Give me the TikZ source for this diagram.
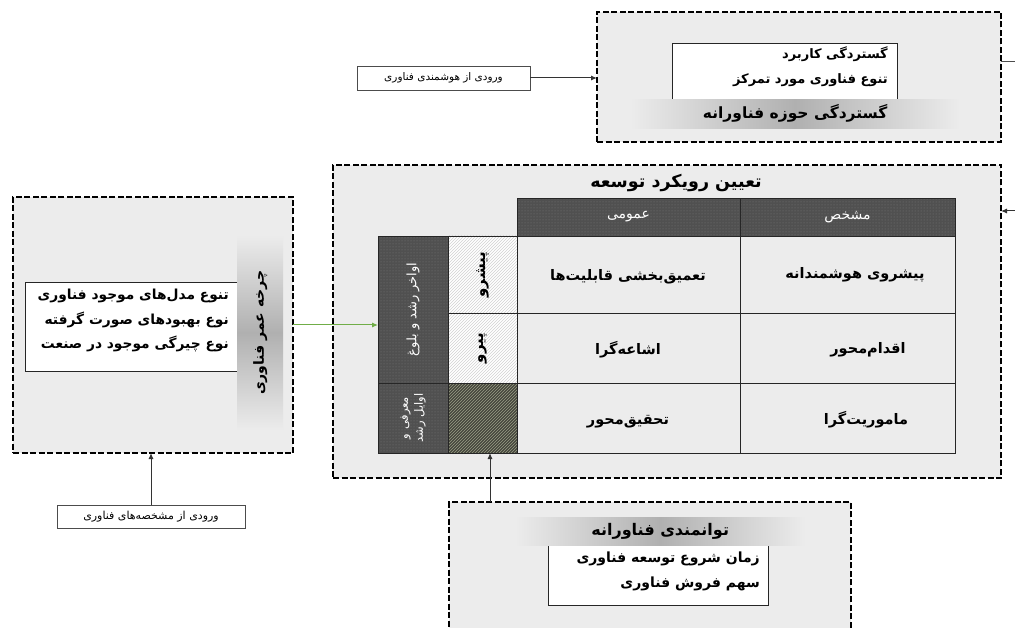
\documentclass[tikz,border=0pt]{standalone}
\usepackage{fontspec}
\usetikzlibrary{patterns,arrows.meta}
\TeXXeTstate=1
\newfontfamily\fa[Script=Arabic]{DejaVu Sans}
\newcommand\fatx[1]{{\fa\beginR #1\endR}}
\definecolor{bg}{HTML}{ECECEC}
\definecolor{bandc}{HTML}{B0B0B0}
\definecolor{hdr}{HTML}{505050}
\definecolor{dotc}{HTML}{7A7A7A}
\definecolor{olivd}{HTML}{45463C}
\definecolor{olivl}{HTML}{9A9E86}
\definecolor{garrc}{HTML}{70AD47}
\begin{document}
\begin{tikzpicture}[x=1pt,y=1pt,
 dbox/.style={draw=black, line width=2.2pt, dash pattern=on 6pt off 2.5pt, fill=bg, anchor=north west, inner sep=0pt, outer sep=0pt},
 wbox/.style={draw=black!85, line width=1pt, fill=white, anchor=north west, inner sep=0pt, outer sep=0pt},
 inbox/.style={draw=black!70, line width=0.7pt, fill=white, anchor=north west, inner sep=0pt, outer sep=0pt, font=\fa\fontsize{10.5}{12}\selectfont},
 band/.style={draw=none, anchor=north west, inner sep=0pt, left color=bg, right color=bg, middle color=bandc, font=\fa\bfseries\fontsize{15.5}{18}\selectfont},
 vband/.style={draw=none, anchor=north west, inner sep=0pt, top color=bg, bottom color=bg, middle color=bandc},
 tcell/.style={draw=black!85, line width=0.9pt, fill=bg, anchor=north west, inner sep=0pt, outer sep=0pt},
 hcell/.style={draw=black!85, line width=0.9pt, anchor=north west, inner sep=0pt, outer sep=0pt, preaction={fill=hdr}, pattern=dots, pattern color=dotc, text=white, font=\fa\fontsize{14}{16}\selectfont},
 dcell/.style={draw=black!85, line width=0.9pt, anchor=north west, inner sep=0pt, outer sep=0pt, preaction={fill=hdr}, pattern=dots, pattern color=dotc},
 hatchw/.style={draw=black!85, line width=0.9pt, anchor=north west, inner sep=0pt, outer sep=0pt, preaction={fill=white}, pattern=north east lines, pattern color=black!18},
 hatchd/.style={draw=black!85, line width=0.9pt, anchor=north west, inner sep=0pt, outer sep=0pt, preaction={fill=olivd}, pattern=north east lines, pattern color=olivl},
 btext/.style={font=\fa\bfseries\fontsize{14.5}{17}\selectfont, inner sep=0pt},
 vtext/.style={font=\fa\fontsize{13}{15}\selectfont, text=white, inner sep=0pt, rotate=90, align=center},
 arr/.style={draw=black!80, line width=1pt, -{Latex[length=6pt,width=5pt]}},
 garr/.style={draw=garrc, line width=1pt, -{Latex[length=6pt,width=5pt]}},
]
\useasboundingbox (0,0) rectangle (1015,-628);
\clip (0,0) rectangle (1015,-628);
\fill[white] (0,0) rectangle (1015,-628);

% ---------- top box ----------
\node[dbox, minimum width=404pt, minimum height=130pt] (tbox) at (597,-12) {};
\node[wbox, minimum width=225pt, minimum height=62pt] (twhite) at (672,-44) {};
\node[btext, anchor=east, font=\fa\bfseries\fontsize{13}{15}\selectfont] (tl1) at (888,-54) {\fatx{گستردگی کاربرد}};
\node[btext, anchor=east, font=\fa\bfseries\fontsize{13}{15}\selectfont] (tl2) at (888,-80) {\fatx{تنوع فناوری مورد تمرکز}};
\node[band, minimum width=330pt, minimum height=29pt] (tband) at (630,-99) {\fatx{گستردگی حوزه فناورانه}};
\node[inbox, minimum width=173pt, minimum height=24pt] (tin) at (357,-66) {\fatx{ورودی از هوشمندی فناوری}};
\draw[arr] (tin.east) -- (tin.east -| tbox.west);
\coordinate (rstub) at (1015,-62);
\draw[draw=black!70, line width=1pt] (rstub -| tbox.east) -- (rstub);

% ---------- central box ----------
\node[dbox, minimum width=668pt, minimum height=313pt] (cbox) at (333,-165) {};
\node[font=\fa\bfseries\fontsize{17.5}{20}\selectfont, inner sep=0pt] (ctitle) at (676,-183) {\fatx{تعیین رویکرد توسعه}};
\coordinate (rin) at (1015,-211);
\draw[arr] (rin) -- (rin -| cbox.east);

% header
\node[hcell, minimum width=223pt, minimum height=38pt] (h1) at (517,-198) {\fatx{عمومی}};
\node[hcell, minimum width=215pt, minimum height=38pt] (h2) at (740,-198) {\fatx{مشخص}};
% body cells
\node[tcell, minimum width=223pt, minimum height=77pt] (c11) at (517,-236) {};
\node[tcell, minimum width=215pt, minimum height=77pt] (c12) at (740,-236) {};
\node[tcell, minimum width=223pt, minimum height=70pt] (c21) at (517,-313) {};
\node[tcell, minimum width=215pt, minimum height=70pt] (c22) at (740,-313) {};
\node[tcell, minimum width=223pt, minimum height=70pt] (c31) at (517,-383) {};
\node[tcell, minimum width=215pt, minimum height=70pt] (c32) at (740,-383) {};
\node[btext] (t11) at (628,-277) {\fatx{تعمیق‌بخشی قابلیت‌ها}};
\node[btext] (t12) at (855,-275) {\fatx{پیشروی هوشمندانه}};
\node[btext] (t21) at (628,-350) {\fatx{اشاعه‌گرا}};
\node[btext] (t22) at (868,-350) {\fatx{اقدام‌محور}};
\node[btext] (t31) at (628,-422) {\fatx{تحقیق‌محور}};
\node[btext] (t32) at (866,-420) {\fatx{ماموریت‌گرا}};
% left columns
\node[dcell, minimum width=70pt, minimum height=147pt] (dA) at (378,-236) {};
\node[dcell, minimum width=70pt, minimum height=70pt] (dB) at (378,-383) {};
\node[vtext] (vA) at (dA.center) {\fatx{اواخر رشد و بلوغ}};
\node[vtext, font=\fa\fontsize{11.5}{15}\selectfont] (vB) at (dB.center) {\fatx{معرفی و}\\\fatx{اوایل رشد}};
\node[hatchw, minimum width=69pt, minimum height=77pt] (p1) at (448,-236) {};
\node[hatchw, minimum width=69pt, minimum height=70pt] (p2) at (448,-313) {};
\node[hatchd, minimum width=69pt, minimum height=70pt] (p3) at (448,-383) {};
\node[btext, rotate=90, font=\fa\bfseries\fontsize{15}{17}\selectfont] (vp1) at (p1.center) {\fatx{پیشرو}};
\node[btext, rotate=90, font=\fa\bfseries\fontsize{15}{17}\selectfont] (vp2) at (p2.center) {\fatx{پیرو}};

% ---------- left box ----------
\node[dbox, minimum width=280pt, minimum height=256pt] (lbox) at (13,-197) {};
\node[wbox, minimum width=213pt, minimum height=88pt] (lwhite) at (25,-283) {};
\node[btext, anchor=north east, align=right, font=\fa\bfseries\fontsize{13.8}{24.5}\selectfont] (ltext) at (229,-289) {\fatx{تنوع مدل‌های موجود فناوری}\\\fatx{نوع بهبودهای صورت گرفته}\\\fatx{نوع چیرگی موجود در صنعت}};
\node[vband, minimum width=46pt, minimum height=195pt] (lband) at (237,-235) {};
\node[btext, rotate=90, font=\fa\bfseries\fontsize{14}{16}\selectfont] (lbt) at (lband.center) {\fatx{چرخه عمر فناوری}};
\node[inbox, minimum width=188pt, minimum height=23pt, font=\fa\fontsize{11}{12}\selectfont] (lin) at (57,-505) {\fatx{ورودی از مشخصه‌های فناوری}};
\draw[arr] (lin.north) -- (lin.north |- lbox.south);
\coordinate (g) at (0,-325);
\draw[garr] (g -| lbox.east) -- (g -| dA.west);

% ---------- bottom box ----------
\node[dbox, minimum width=402pt, minimum height=140pt] (bbox) at (449,-502) {};
\node[wbox, minimum width=220pt, minimum height=60pt] (bwhite) at (548,-545) {};
\node[btext, anchor=north east, align=right, font=\fa\bfseries\fontsize{14}{25}\selectfont] (btxt) at (760,-552) {\fatx{زمان شروع توسعه فناوری}\\\fatx{سهم فروش فناوری}};
\node[band, minimum width=290pt, minimum height=28pt, font=\fa\bfseries\fontsize{16}{18}\selectfont] (bband) at (515,-517) {\fatx{توانمندی فناورانه}};
\coordinate (barr) at (490,0);
\draw[arr] (barr |- bbox.north) -- (barr |- dB.south);
\end{tikzpicture}
\end{document}
